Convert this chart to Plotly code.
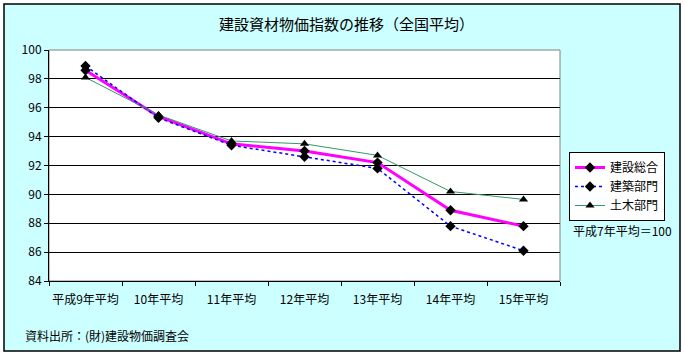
import plotly.graph_objects as go

categories = ["平成9年平均", "10年平均", "11年平均", "12年平均", "13年平均", "14年平均", "15年平均"]
sogo = [98.6, 95.4, 93.5, 93.0, 92.2, 88.9, 87.8]
kenchiku = [98.9, 95.3, 93.4, 92.6, 91.8, 87.8, 86.1]
doboku = [98.1, 95.5, 93.7, 93.5, 92.7, 90.2, 89.65]
y_ticks = [84, 86, 88, 90, 92, 94, 96, 98, 100]

FONT = "Noto Sans CJK JP, Noto Sans, sans-serif"

# plot area in pixels
L, R, T, B = 49, 560, 50, 281
W, H = 685, 356


def px_x(p):
    return (p - L) / (R - L)


def px_y(p):
    return (B - p) / (B - T)


fig = go.Figure()
fig.add_trace(go.Scatter(
    x=categories, y=sogo, name="建設総合", mode="lines+markers",
    line=dict(color="#FF00FF", width=3),
    marker=dict(symbol="diamond", color="black", size=8),
))
fig.add_trace(go.Scatter(
    x=categories, y=kenchiku, name="建築部門", mode="lines+markers",
    line=dict(color="#0000FF", width=1.5, dash="dot"),
    marker=dict(symbol="diamond", color="black", size=8),
))
fig.add_trace(go.Scatter(
    x=categories, y=doboku, name="土木部門", mode="lines+markers",
    line=dict(color="#339966", width=1),
    marker=dict(symbol="triangle-up", color="black", size=8),
))

shapes = [
    # outer cyan frame
    dict(type="rect", xref="paper", yref="paper", layer="below",
         x0=px_x(4), x1=px_x(680), y0=px_y(351), y1=px_y(4),
         fillcolor="#CCFFFF", line=dict(color="black", width=1.5)),
    # plot area
    dict(type="rect", xref="paper", yref="paper", layer="below",
         x0=0, x1=1, y0=0, y1=1,
         fillcolor="white", line=dict(color="#808080", width=1)),
]

annotations = [
    dict(text="建設資材物価指数の推移（全国平均）", xref="paper", yref="paper",
         x=px_x(346), y=px_y(23), xanchor="center", yanchor="middle",
         showarrow=False, font=dict(size=15, color="black", family=FONT)),
    dict(text="平成7年平均＝100", xref="paper", yref="paper",
         x=px_x(571), y=px_y(230), xanchor="left", yanchor="middle",
         showarrow=False, font=dict(size=12, color="black", family=FONT)),
    dict(text="資料出所：(財)建設物価調査会", xref="paper", yref="paper",
         x=px_x(23), y=px_y(335), xanchor="left", yanchor="middle",
         showarrow=False, font=dict(size=12, color="black", family=FONT)),
]

fig.update_layout(
    width=W, height=H,
    margin=dict(l=L, r=W - R, t=T, b=H - B, pad=0),
    paper_bgcolor="white",
    plot_bgcolor="white",
    font=dict(family=FONT, size=12, color="black"),
    showlegend=True,
    legend=dict(
        x=px_x(569), y=px_y(152), xanchor="left", yanchor="top",
        bgcolor="white", bordercolor="black", borderwidth=1,
        font=dict(size=12, family=FONT, color="black"),
        tracegroupgap=0, itemsizing="trace",
    ),
    shapes=shapes,
    annotations=annotations,
    xaxis=dict(
        type="category", categoryorder="array", categoryarray=categories,
        showline=True, linecolor="black", linewidth=1,
        ticks="outside", tickson="boundaries", ticklen=4, tickcolor="black",
        showgrid=False, zeroline=False, tickangle=0, ticklabelstandoff=8,
        tickfont=dict(size=12, family=FONT),
        range=[-0.5, 6.5],
    ),
    yaxis=dict(
        range=[84, 100], tickvals=y_ticks, ticktext=[str(v) for v in y_ticks],
        showline=True, linecolor="black", linewidth=1,
        ticks="outside", ticklen=4, tickcolor="black",
        showgrid=True, gridcolor="black", gridwidth=1,
        zeroline=False,
        tickfont=dict(size=12, family=FONT),
    ),
)

fig.write_html(
    "out.html",
    config={"displayModeBar": False},
    post_script="document.body.style.margin='0';document.body.style.overflow='hidden';",
)
